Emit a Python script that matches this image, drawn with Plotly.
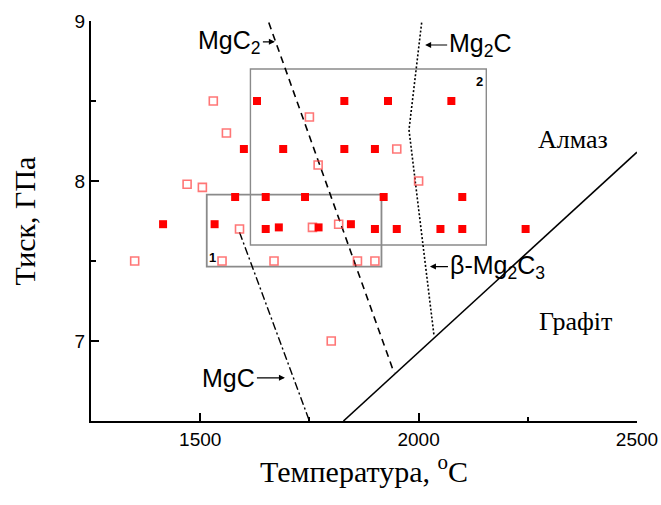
import plotly.graph_objects as go

# ---- data ----
filled_T = [1630, 1830, 1930, 2075,
            1600, 1690, 1830, 1900,
            1580, 1650, 1740, 1920, 2100,
            1415, 1533, 1650, 1680, 1771, 1845, 1900, 1950, 2050, 2100, 2245]
filled_P = [8.5, 8.5, 8.5, 8.5,
            8.2, 8.2, 8.2, 8.2,
            7.9, 7.9, 7.9, 7.9, 7.9,
            7.73, 7.73, 7.70, 7.71, 7.71, 7.73, 7.70, 7.70, 7.70, 7.70, 7.70]

open_T = [1530, 1560, 1750, 1770, 1470, 1505, 1950, 2000,
          1590, 1757, 1817, 1350, 1550, 1669, 1860, 1900, 1800]
open_P = [8.5, 8.3, 8.4, 8.1, 7.98, 7.96, 8.2, 8.0,
          7.70, 7.71, 7.73, 7.5, 7.5, 7.5, 7.5, 7.5, 7.0]

graphite_T = [1828, 2500]
graphite_P = [6.5, 8.18]

mgc2_T = [1657, 1944]
mgc2_P = [8.99, 6.80]

mg2c_T = [2007, 1978, 2035]
mg2c_P = [8.99, 8.32, 7.04]

mgc_T = [1590, 1750]
mgc_P = [7.68, 6.5]

rect1_T = [1515, 1915]
rect1_P = [7.465, 7.915]
rect2_T = [1615, 2155]
rect2_P = [7.60, 8.70]

x_ticks = [1500, 2000, 2500]
y_ticks = [7, 8, 9]

SANS = "Liberation Sans, Arial, sans-serif"
SERIF = "Liberation Serif, Times New Roman, serif"

fig = go.Figure()

fig.add_trace(go.Scatter(x=graphite_T, y=graphite_P, mode="lines",
                         line=dict(color="black", width=1.6), showlegend=False))
fig.add_trace(go.Scatter(x=mgc2_T, y=mgc2_P, mode="lines",
                         line=dict(color="black", width=1.6, dash="7px,5px"), showlegend=False))
fig.add_trace(go.Scatter(x=mg2c_T, y=mg2c_P, mode="lines",
                         line=dict(color="black", width=1.6, dash="2px,2px"), showlegend=False))
fig.add_trace(go.Scatter(x=mgc_T, y=mgc_P, mode="lines",
                         line=dict(color="black", width=1.4, dash="8px,3px,2px,3px"), showlegend=False))

fig.add_trace(go.Scatter(x=open_T, y=open_P, mode="markers",
                         marker=dict(symbol="square-open", size=8, color="rgba(255,60,60,0.7)",
                                     line=dict(width=1.6)), showlegend=False))
fig.add_trace(go.Scatter(x=filled_T, y=filled_P, mode="markers",
                         marker=dict(symbol="square", size=8, color="#ff0000",
                                     line=dict(width=0)), showlegend=False))

fig.add_shape(type="rect", xref="x", yref="y", x0=rect1_T[0], x1=rect1_T[1],
              y0=rect1_P[0], y1=rect1_P[1], line=dict(color="#8a8a8a", width=1.8), layer="below")
fig.add_shape(type="rect", xref="x", yref="y", x0=rect2_T[0], x1=rect2_T[1],
              y0=rect2_P[0], y1=rect2_P[1], line=dict(color="#8a8a8a", width=1.4), layer="below")

LBL = dict(family=SANS, size=25, color="black")
ARW = dict(showarrow=True, arrowhead=2, arrowsize=1, arrowwidth=1.2, arrowcolor="black")

ann = []
# region numbers
ann.append(dict(x=1515, y=7.52, text="<b>1</b>", showarrow=False, xanchor="left",
                font=dict(family=SANS, size=13, color="black")))
ann.append(dict(x=2140, y=8.62, text="<b>2</b>", showarrow=False, xanchor="center",
                font=dict(family=SANS, size=13, color="black")))
# phase labels with arrows
ann.append(dict(x=1671, y=8.87, ax=-12, ay=0, text="MgC<sub>2</sub>", xanchor="right",
                font=LBL, **ARW))
ann.append(dict(x=2015, y=8.85, ax=22, ay=0, text="Mg<sub>2</sub>C", xanchor="left",
                font=LBL, **ARW))
ann.append(dict(x=2026, y=7.465, ax=18, ay=0, text="β-Mg<sub>2</sub>C<sub>3</sub>", xanchor="left",
                font=LBL, **ARW))
ann.append(dict(x=1694, y=6.77, ax=-28, ay=0, text="MgC", xanchor="right",
                font=LBL, **ARW))
# region labels
ann.append(dict(x=2353, y=8.26, text="Алмаз", showarrow=False,
                font=dict(family=SERIF, size=26, color="black")))
ann.append(dict(x=2360, y=7.12, text="Графіт", showarrow=False,
                font=dict(family=SERIF, size=26, color="black")))

fig.update_layout(
    width=661, height=505,
    margin=dict(l=91, r=24, t=21, b=84),
    plot_bgcolor="white", paper_bgcolor="white",
    annotations=ann,
    xaxis=dict(range=[1250, 2500], tickvals=x_ticks, showgrid=False, zeroline=False,
               automargin=False,
               showline=True, linecolor="black", linewidth=2,
               ticks="inside", ticklen=8, tickwidth=1.6, tickcolor="black",
               minor=dict(dtick=250, tick0=1250, ticks="inside", ticklen=4, tickwidth=1.6, tickcolor="black"),
               tickfont=dict(family=SANS, size=19, color="black"),
               title=dict(text="Температура, <sup>o</sup>C", standoff=12,
                          font=dict(family=SERIF, size=30, color="black"))),
    yaxis=dict(range=[6.5, 9], tickvals=y_ticks, showgrid=False, zeroline=False,
               automargin=False,
               showline=True, linecolor="black", linewidth=2,
               ticks="inside", ticklen=8, tickwidth=1.6, tickcolor="black",
               minor=dict(dtick=0.5, tick0=6.5, ticks="inside", ticklen=5, tickwidth=1.6, tickcolor="black"),
               tickfont=dict(family=SANS, size=19, color="black"),
               title=dict(text="Тиск, ГПа", standoff=30,
                          font=dict(family=SERIF, size=30, color="black"))),
)

fig.write_html("out.html")
